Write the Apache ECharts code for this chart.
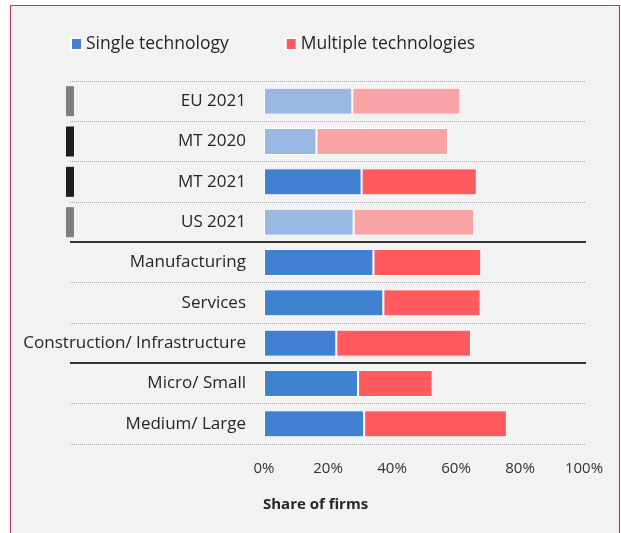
<!DOCTYPE html>
<html>
<head>
<meta charset="utf-8">
<script src="https://cdn.jsdelivr.net/npm/echarts@6/dist/echarts.min.js"></script>
<style>
  html, body { margin: 0; padding: 0; background: #ffffff; }
  #chart { width: 621px; height: 533px; }
</style>
</head>
<body>
<div id="chart"></div>
<script>
// Rows, top to bottom
const categories = ['EU 2021', 'MT 2020', 'MT 2021', 'US 2021', 'Manufacturing', 'Services',
  'Construction/ Infrastructure', 'Micro/ Small', 'Medium/ Large'];
// Share of firms (%) using one technology vs. several
const singleTech = [27.6, 16.4, 30.5, 28.0, 34.2, 37.3, 22.6, 29.4, 31.3];
const multipleTech = [33.8, 41.1, 36.0, 37.7, 33.7, 30.4, 42.1, 23.3, 44.6];
// Comparison rows drawn in a lighter tone
const fadedRows = [true, true, false, true, false, false, false, false, false];
// Small tag left of the label: grey = benchmark, dark = Malta
const rowTags = ['#7f7f7f', '#1e1e1e', '#1e1e1e', '#7f7f7f', null, null, null, null, null];
// Group separators drawn below these rows
const groupEnds = [3, 6];
const xTicks = [0, 20, 40, 60, 80, 100];

const FONT = '"Open Sans", "Noto Sans", sans-serif';
const BLUE = '#4181d2', BLUE_LIGHT = '#9ab9e2';
const RED = '#ff5a5f', RED_LIGHT = '#f8a4a7';

const chart = echarts.init(document.getElementById('chart'), null, { renderer: 'canvas' });

function barData(values, light) {
  return values.map((v, i) => fadedRows[i]
    ? { value: v, itemStyle: { color: light } }
    : v);
}

const option = {
  backgroundColor: '#ffffff',
  animation: false,
  textStyle: { fontFamily: FONT },
  graphic: [
    {
      type: 'rect', z: -10, silent: true,
      shape: { x: 10.5, y: 5.5, width: 609, height: 560 },
      style: { fill: '#f2f2f2', stroke: '#b93a77', lineWidth: 1.2 }
    },
    {
      type: 'text', left: 263, top: 497,
      style: { text: 'Share of firms', font: 'bold 15px ' + FONT, fill: '#262626' }
    }
  ],
  legend: {
    left: 65, top: 30,
    itemWidth: 11, itemHeight: 12, itemGap: 56,
    icon: 'rect',
    textStyle: { fontSize: 17.5, color: '#262626', fontFamily: FONT, padding: [0, 0, 0, -1] },
    data: ['Single technology', 'Multiple technologies']
  },
  grid: [
    { left: 264, top: 81, width: 320, height: 363, containLabel: false },
    { left: 70, top: 81, width: 516, height: 363, containLabel: false }
  ],
  xAxis: [
    {
      gridIndex: 0, type: 'value', min: xTicks[0], max: xTicks[xTicks.length - 1], interval: 20,
      axisLine: { show: false }, axisTick: { show: false }, splitLine: { show: false },
      axisLabel: { formatter: '{value}%', fontSize: 15, color: '#333333', margin: 17, fontFamily: FONT }
    },
    {
      gridIndex: 1, type: 'value', min: 0, max: 1, show: false
    }
  ],
  yAxis: [
    {
      gridIndex: 0, type: 'category', inverse: true, data: categories,
      axisLine: { show: false }, axisTick: { show: false }, splitLine: { show: false },
      axisLabel: { fontSize: 17, color: '#262626', margin: 18, fontFamily: FONT }
    },
    {
      gridIndex: 1, type: 'category', inverse: true, data: categories,
      axisLine: { show: false }, axisTick: { show: false }, axisLabel: { show: false },
      splitLine: { show: true, lineStyle: { type: [1, 1], color: '#a8a8a8', width: 1 } }
    }
  ],
  series: [
    {
      name: 'Single technology', type: 'bar', stack: 'share',
      xAxisIndex: 0, yAxisIndex: 0, barWidth: 27,
      itemStyle: { color: BLUE, borderColor: '#ffffff', borderWidth: 1 },
      data: barData(singleTech, BLUE_LIGHT)
    },
    {
      name: 'Multiple technologies', type: 'bar', stack: 'share',
      xAxisIndex: 0, yAxisIndex: 0, barWidth: 27,
      itemStyle: { color: RED, borderColor: '#ffffff', borderWidth: 1 },
      data: barData(multipleTech, RED_LIGHT)
    },
    {
      // row tags and group separators
      type: 'custom', xAxisIndex: 1, yAxisIndex: 1, silent: true, clip: false, z: 5,
      data: categories.map((c, i) => [0, i]),
      renderItem: function (params, api) {
        const idx = api.value(1);
        const cs = params.coordSys;
        const cy = api.coord([0, idx])[1];
        const band = api.size([0, 1])[1];
        const children = [];
        if (rowTags[idx]) {
          children.push({
            type: 'rect',
            shape: { x: cs.x - 4, y: cy - 15, width: 8, height: 30 },
            style: { fill: rowTags[idx] }
          });
        }
        if (groupEnds.indexOf(idx) >= 0) {
          const yb = Math.round(cy + band / 2);
          children.push({
            type: 'line',
            shape: { x1: cs.x, y1: yb, x2: cs.x + cs.width, y2: yb },
            style: { stroke: '#333333', lineWidth: 2 }
          });
        }
        return { type: 'group', children: children };
      }
    }
  ]
};

chart.setOption(option);
</script>
</body>
</html>
